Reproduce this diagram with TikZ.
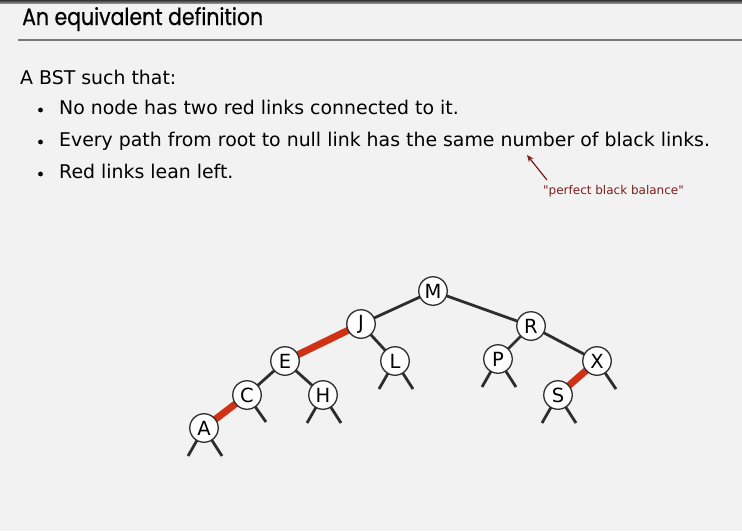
\documentclass[tikz,border=0pt]{standalone}
\usepackage{fontspec}
\setmainfont{DejaVu Sans}
\newfontfamily\titlefont[FakeBold=0.6]{Poppins}
\newfontfamily\notefont[Ligatures=TeXOff]{DejaVu Sans}
\usetikzlibrary{arrows.meta}
\definecolor{pagebg}{RGB}{242,242,242}
\definecolor{linkred}{RGB}{208,50,22}
\definecolor{linkblack}{RGB}{45,45,45}
\definecolor{notered}{RGB}{125,30,30}
\definecolor{rulegray}{RGB}{120,120,120}
\pgfdeclarelayer{paper}
\pgfdeclarelayer{links}
\pgfsetlayers{paper,links,main}
\begin{document}
\begin{tikzpicture}[x=1pt,y=-1pt,
  key/.style={circle, draw=linkblack, line width=1.3pt, fill=white,
    minimum size=28.5pt, inner sep=0pt, text=black,
    font=\fontsize{19.5}{19.5}\selectfont},
  blacklink/.style={draw=linkblack, line width=2.8pt},
  redlink/.style={draw=linkred, line width=7pt},
  body/.style={anchor=base west, inner sep=0pt, font=\fontsize{18.9}{21}\selectfont},
  bulletdot/.style={circle, fill=black, inner sep=0pt, minimum size=4.8pt}
]
\useasboundingbox (0,0) rectangle (742,531);
\begin{pgfonlayer}{paper}
  \fill[pagebg] (0,0) rectangle (742,531);
  \fill[top color=black!80, bottom color=black!45] (0,0) rectangle (742,3);
  \draw[rulegray, line width=1.5pt] (18,40) -- (742,40);
\end{pgfonlayer}

% heading
\node[anchor=base west, inner sep=0pt, font=\titlefont\fontsize{23.5}{25}\selectfont] (title) at (22,25) {\scalebox{0.87}[1]{An equivalent definition}};

% definition text
\node[body] (intro) at (20,84) {A BST such that:};
\node[bulletdot] (b1) at (40.5,110) {};
\node[body] (t1) at (59,114) {No node has two red links connected to it.};
\node[bulletdot] (b2) at (40.5,142) {};
\node[body] (t2) at (59,146) {Every path from root to null link has the same number of black links.};
\node[bulletdot] (b3) at (40.5,174) {};
\node[body] (t3) at (59,178) {Red links lean left.};

% annotation
\node[anchor=base west, inner sep=0pt, text=notered, font=\notefont\fontsize{12}{14}\selectfont] (note) at (543,194) {"perfect black balance"};
\coordinate (notetail) at (547,180);
\coordinate (notetip) at (527,155);
\draw[notered, line width=1.2pt, -{Stealth[length=7pt,width=6pt]}] (notetail) -- (notetip);

% tree keys
\node[key] (M) at (433,291) {M};
\node[key] (J) at (361,324) {J};
\node[key] (E) at (285,361) {E};
\node[key] (L) at (395,361) {L};
\node[key] (C) at (247,395) {C};
\node[key] (H) at (323,395) {H};
\node[key] (A) at (204,428) {A};
\node[key] (R) at (531,326) {R};
\node[key] (P) at (498,359) {P};
\node[key] (X) at (597,361) {X};
\node[key] (S) at (558,395) {S};

\begin{pgfonlayer}{links}
  % black links
  \draw[blacklink] (M.center) -- (J.center);
  \draw[blacklink] (M.center) -- (R.center);
  \draw[blacklink] (J.center) -- (L.center);
  \draw[blacklink] (E.center) -- (C.center);
  \draw[blacklink] (E.center) -- (H.center);
  \draw[blacklink] (R.center) -- (P.center);
  \draw[blacklink] (R.center) -- (X.center);
  % red links
  \draw[redlink] (J.center) -- (E.center);
  \draw[redlink] (C.center) -- (A.center);
  \draw[redlink] (X.center) -- (S.center);
  % null links
  \foreach \k in {A,H,L,P,S} {
    \draw[blacklink] (\k.center) -- ++(-16,28);
    \draw[blacklink] (\k.center) -- ++(18,28);
  }
  \draw[blacklink] (C.center) -- ++(19,27);
  \draw[blacklink] (X.center) -- ++(19,28);
\end{pgfonlayer}
\end{tikzpicture}
\end{document}
